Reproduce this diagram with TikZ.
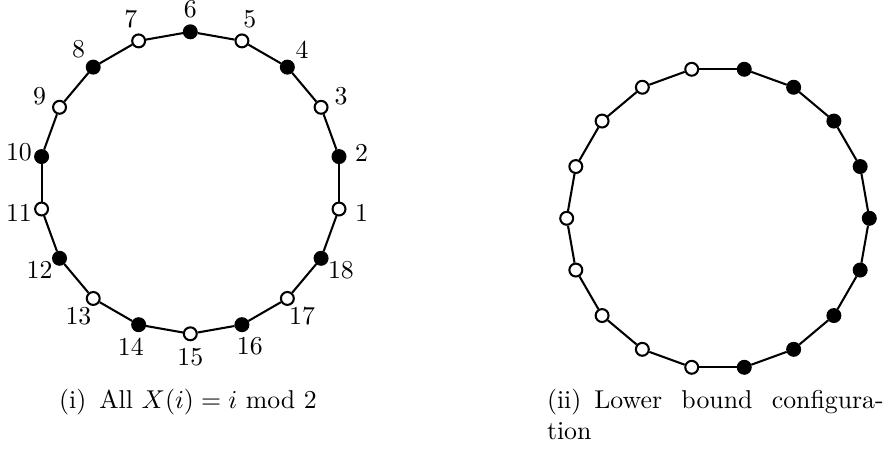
\documentclass[tikz,border=0pt]{standalone}
\usetikzlibrary{positioning, calc}
\tikzset{
  every picture/.style={line width=0.8pt},
  vtx/.style={circle, draw=black, fill=#1, inner sep=0pt, minimum size=5pt},
  vtx/.default=white,
  num/.style={inner sep=0pt},
  capt/.style={anchor=base, inner sep=0pt},
}

\begin{document}
\begin{tikzpicture}[x=0.3876pt, y=0.3876pt]
  \useasboundingbox (0,0) rectangle (888,450);
  \coordinate (ca) at (190.3,267.2);
  \coordinate (cb) at (718,231.7);
  % (i) alternating ring, even sites filled
  \foreach \i in {1,...,18}{
    \pgfmathtruncatemacro\odd{mod(\i,2)}
    \ifnum\odd=0 \def\col{black}\else \def\col{white}\fi
    \node[vtx=\col] (a\i) at ($(ca)+(20*\i-30:151)$) {};
    \node[num] (la\i) at ($(ca)+(20*\i-30:174)$) {\i};
  }
  \foreach \i [remember=\i as \j (initially 18)] in {1,...,18}
    \draw (a\j) -- (a\i);
  % (ii) right half filled, left half empty
  \foreach \k in {1,...,18}{
    \ifnum\k<10 \def\col{black}\else \def\col{white}\fi
    \node[vtx=\col] (b\k) at ($(cb)+(100-20*\k:151.3)$) {};
  }
  \foreach \k [remember=\k as \j (initially 18)] in {1,...,18}
    \draw (b\j) -- (b\k);
  \node[capt] (capa) at (188,41) {(i)\enspace All $X(i) = i$ mod 2};
  \node[capt, anchor=base west, text width=130.5pt, align=justify] (capb) at (546,41)
    {(ii)\enspace Lower bound configura\-tion};
\end{tikzpicture}
\end{document}
